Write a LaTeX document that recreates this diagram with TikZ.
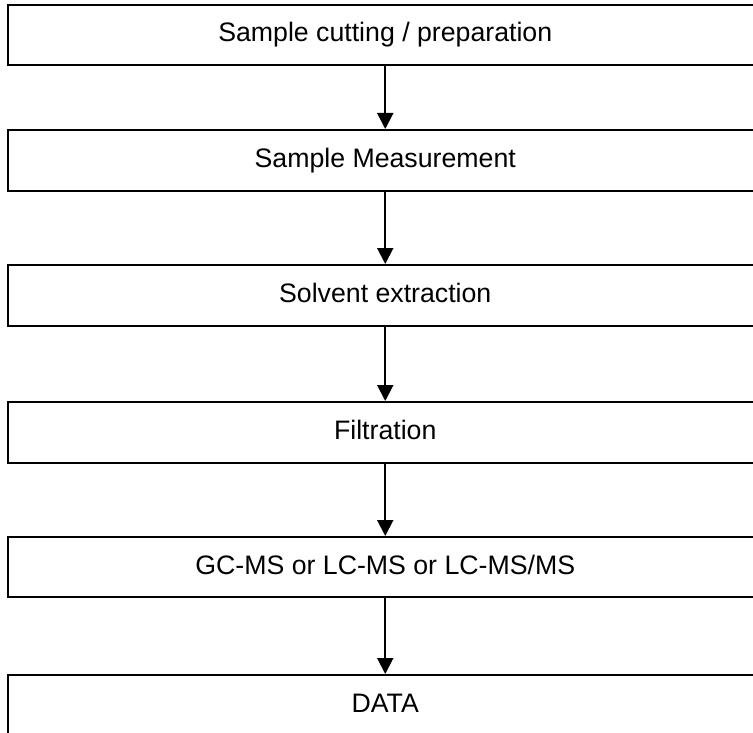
\documentclass[tikz,border=0pt]{standalone}
\usepackage{fontspec}
\setmainfont{Liberation Sans}
\usetikzlibrary{arrows.meta}
\begin{document}
\begin{tikzpicture}[x=1pt,y=-1pt,
  stepbox/.style={draw=black,line width=2pt,rectangle,minimum width=755.5pt,
    inner sep=0pt,text height=19pt,text depth=5pt,
    font=\fontsize{26.7}{32}\selectfont},
  flow/.style={draw=black,line width=2pt,-{Triangle[width=16pt,length=16pt]}}]
\useasboundingbox (0,0) rectangle (753,733);
\clip (0,0) rectangle (753,733);
\node[stepbox,minimum height=60pt] (b1) at (385.25,35) {Sample cutting / preparation};
\node[stepbox,minimum height=61pt] (b2) at (385.25,160.5) {Sample Measurement};
\node[stepbox,minimum height=61pt] (b3) at (385.25,295.5) {Solvent extraction};
\node[stepbox,minimum height=61pt] (b4) at (385.25,432.5) {Filtration};
\node[stepbox,minimum height=60pt] (b5) at (385.25,567) {GC-MS or LC-MS or LC-MS/MS};
\node[stepbox,minimum height=60pt] (b6) at (385.25,705) {DATA};
\draw[flow] (b1.south) -- (b2.north);
\draw[flow] (b2.south) -- (b3.north);
\draw[flow] (b3.south) -- (b4.north);
\draw[flow] (b4.south) -- (b5.north);
\draw[flow] (b5.south) -- (b6.north);
\end{tikzpicture}
\end{document}
